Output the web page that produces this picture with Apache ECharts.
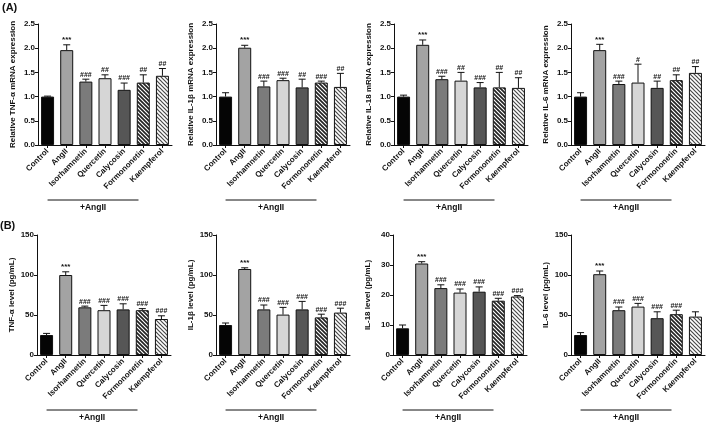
<!DOCTYPE html>
<html>
<head>
<meta charset="utf-8">
<script src="https://cdn.jsdelivr.net/npm/echarts@6/dist/echarts.min.js"></script>
<style>
html,body{margin:0;padding:0;background:#fff;}
#c{width:709px;height:422px;}
</style>
</head>
<body>
<div id="c"></div>
<script>
// ---------- data ----------
const categories = ['Control', 'AngII', 'Isorhamnetin', 'Quercetin', 'Calycosin', 'Formononetin', 'Kaempferol'];

const tnfMrnaMean = [1.00, 1.96, 1.31, 1.38, 1.14, 1.29, 1.43];
const tnfMrnaErr  = [0.01, 0.11, 0.05, 0.07, 0.14, 0.16, 0.15];
const tnfMrnaSig  = ['', '***', '###', '##', '###', '##', '##'];

const il1bMrnaMean = [1.00, 2.01, 1.21, 1.34, 1.19, 1.29, 1.20];
const il1bMrnaErr  = [0.08, 0.05, 0.11, 0.04, 0.17, 0.03, 0.28];
const il1bMrnaSig  = ['', '***', '###', '###', '##', '###', '##'];

const il18MrnaMean = [1.00, 2.07, 1.36, 1.33, 1.19, 1.19, 1.18];
const il18MrnaErr  = [0.03, 0.10, 0.06, 0.17, 0.10, 0.31, 0.21];
const il18MrnaSig  = ['', '***', '###', '##', '###', '##', '##'];

const il6MrnaMean = [1.00, 1.96, 1.26, 1.29, 1.18, 1.34, 1.49];
const il6MrnaErr  = [0.08, 0.12, 0.06, 0.38, 0.14, 0.11, 0.13];
const il6MrnaSig  = ['', '***', '###', '#', '##', '##', '##'];

const tnfLevelMean = [25, 100, 59.6, 56, 57, 56, 45];
const tnfLevelErr  = [2, 4, 1.5, 6, 7, 2, 4];
const tnfLevelSig  = ['', '***', '###', '###', '###', '###', '###'];

const il1bLevelMean = [37.5, 107.5, 57, 50.5, 57, 47, 53];
const il1bLevelErr  = [2.5, 1.5, 5.5, 9, 10, 4, 5.5];
const il1bLevelSig  = ['', '***', '###', '###', '###', '###', '###'];

const il18LevelMean = [8.9, 30.5, 22.3, 20.8, 21.1, 18.1, 19.5];
const il18LevelErr  = [1.1, 0.6, 1.1, 1.2, 1.6, 0.8, 0.3];
const il18LevelSig  = ['', '***', '###', '###', '###', '###', '###'];

const il6LevelMean = [25, 101, 56, 60.5, 46, 51, 48];
const il6LevelErr  = [3, 4, 4, 4, 8, 5, 6];
const il6LevelSig  = ['', '***', '###', '###', '###', '###', ''];

const yNames = [
  'Relative TNF-α mRNA expression', 'Relative IL-1β mRNA expression',
  'Relative IL-18 mRNA expression', 'Relative IL-6 mRNA expression',
  'TNF-α level (pg/mL)', 'IL-1β level (pg/mL)', 'IL-18 level (pg/mL)', 'IL-6 level (pg/mL)'
];
const yMax = [2.5, 2.5, 2.5, 2.5, 150, 150, 40, 150];
const yInterval = [0.5, 0.5, 0.5, 0.5, 50, 50, 10, 50];
const groupLabel = '+AngII';
const panelTitles = ['(A)', '(B)'];

const means = [tnfMrnaMean, il1bMrnaMean, il18MrnaMean, il6MrnaMean, tnfLevelMean, il1bLevelMean, il18LevelMean, il6LevelMean];
const errs  = [tnfMrnaErr, il1bMrnaErr, il18MrnaErr, il6MrnaErr, tnfLevelErr, il1bLevelErr, il18LevelErr, il6LevelErr];
const sigs  = [tnfMrnaSig, il1bMrnaSig, il18MrnaSig, il6MrnaSig, tnfLevelSig, il1bLevelSig, il18LevelSig, il6LevelSig];

// ---------- styling ----------
const FONT = '"Liberation Sans", Arial, sans-serif';
function hatch(stroke, lw) {
  const s = 4;
  const cv = document.createElement('canvas');
  cv.width = s; cv.height = s;
  const ctx = cv.getContext('2d');
  ctx.fillStyle = '#ffffff';
  ctx.fillRect(0, 0, s, s);
  ctx.strokeStyle = stroke;
  ctx.lineWidth = lw;
  [-s, 0, s].forEach(function (c) {
    ctx.beginPath();
    ctx.moveTo(-1, c - 1);
    ctx.lineTo(s + 1, s + c + 1);
    ctx.stroke();
  });
  return cv;
}
const fills = [
  '#050505', '#a3a3a3', '#7b7b7b', '#d6d6d6', '#565656',
  { image: hatch('#222222', 1.7), repeat: 'repeat' },
  { image: hatch('#4a4a4a', 1.2), repeat: 'repeat' }
];

const gridLefts = [38, 216, 394, 571, 37, 216, 393, 571];
const gridTops = [24, 24, 24, 24, 235, 235, 235, 235];
const gridH = [121, 121, 121, 121, 120, 120, 120, 120];

const grids = [], xAxes = [], yAxes = [], series = [];
for (let k = 0; k < 8; k++) {
  grids.push({ left: gridLefts[k], top: gridTops[k], width: 134, height: gridH[k], containLabel: false });
  xAxes.push({
    type: 'category', gridIndex: k, data: categories,
    axisLine: { lineStyle: { color: '#111', width: 1 } },
    axisTick: { show: true, alignWithLabel: true, length: 3, lineStyle: { color: '#111' } },
    axisLabel: { rotate: 45, interval: 0, margin: 5, color: '#111', fontSize: 8, fontWeight: 'bold', fontFamily: FONT }
  });
  const dec = yInterval[k] < 1 ? 1 : 0;
  yAxes.push({
    type: 'value', gridIndex: k, min: 0, max: yMax[k], interval: yInterval[k],
    name: yNames[k], nameLocation: 'middle', nameGap: 21,
    nameTextStyle: { color: '#111', fontSize: 8, fontWeight: 'bold', fontFamily: FONT },
    axisLine: { show: true, lineStyle: { color: '#111', width: 1 } },
    axisTick: { show: true, length: 3, lineStyle: { color: '#111' } },
    splitLine: { show: false },
    axisLabel: { margin: 3, color: '#111', fontSize: 8, fontWeight: 'bold', fontFamily: FONT,
      formatter: function (v) { return v.toFixed(dec); } }
  });
  series.push({
    type: 'bar', xAxisIndex: k, yAxisIndex: k, barWidth: 13, silent: true,
    data: means[k].map(function (v, i) {
      return { value: v, itemStyle: { color: fills[i], borderColor: '#111', borderWidth: 1 } };
    })
  });
  const sig = sigs[k];
  series.push({
    type: 'custom', xAxisIndex: k, yAxisIndex: k, silent: true, z: 5,
    data: means[k].map(function (v, i) { return [i, v, errs[k][i]]; }),
    renderItem: function (params, api) {
      const i = api.value(0), m = api.value(1), e = api.value(2);
      const p0 = api.coord([i, m]);
      const p1 = api.coord([i, m + e]);
      const children = [
        { type: 'line', shape: { x1: p0[0], y1: p0[1], x2: p1[0], y2: p1[1] }, style: { stroke: '#111', lineWidth: 1 } },
        { type: 'line', shape: { x1: p1[0] - 3.5, y1: p1[1], x2: p1[0] + 3.5, y2: p1[1] }, style: { stroke: '#111', lineWidth: 1 } }
      ];
      const s = sig[params.dataIndex];
      if (s) {
        children.push({ type: 'text', x: p1[0], y: p1[1] - 1,
          style: { text: s, align: 'center', verticalAlign: 'bottom', fill: '#111',
            font: (s.indexOf('*') >= 0 ? 'bold 8px ' : 'bold 7px ') + FONT } });
      }
      return { type: 'group', children: children };
    }
  });
}

const chart = echarts.init(document.getElementById('c'), null, { renderer: 'canvas' });
chart.setOption({
  animation: false,
  backgroundColor: '#ffffff',
  grid: grids, xAxis: xAxes, yAxis: yAxes, series: series
});

// group brackets and panel letters
const graphics = [
  { type: 'text', left: 2, top: 2, style: { text: panelTitles[0], font: 'bold 11px ' + FONT, fill: '#111' } },
  { type: 'text', left: 0, top: 220, style: { text: panelTitles[1], font: 'bold 11px ' + FONT, fill: '#111' } }
];
for (let k = 0; k < 8; k++) {
  const x0 = chart.convertToPixel({ xAxisIndex: k }, categories[0]);
  const x1 = chart.convertToPixel({ xAxisIndex: k }, categories[1]);
  const step = x1 - x0;
  const yb = chart.convertToPixel({ yAxisIndex: k }, 0);
  const xs = x0;
  const xe = x0 + 4.75 * step;
  const yl = yb + 55;
  graphics.push({ type: 'line', shape: { x1: xs, y1: yl, x2: xe, y2: yl }, style: { stroke: '#111', lineWidth: 1 } });
  graphics.push({ type: 'text', x: (xs + xe) / 2, y: yl + 3,
    style: { text: groupLabel, align: 'center', verticalAlign: 'top', font: 'bold 8.5px ' + FONT, fill: '#111' } });
}
chart.setOption({ graphic: graphics });
</script>
</body>
</html>
